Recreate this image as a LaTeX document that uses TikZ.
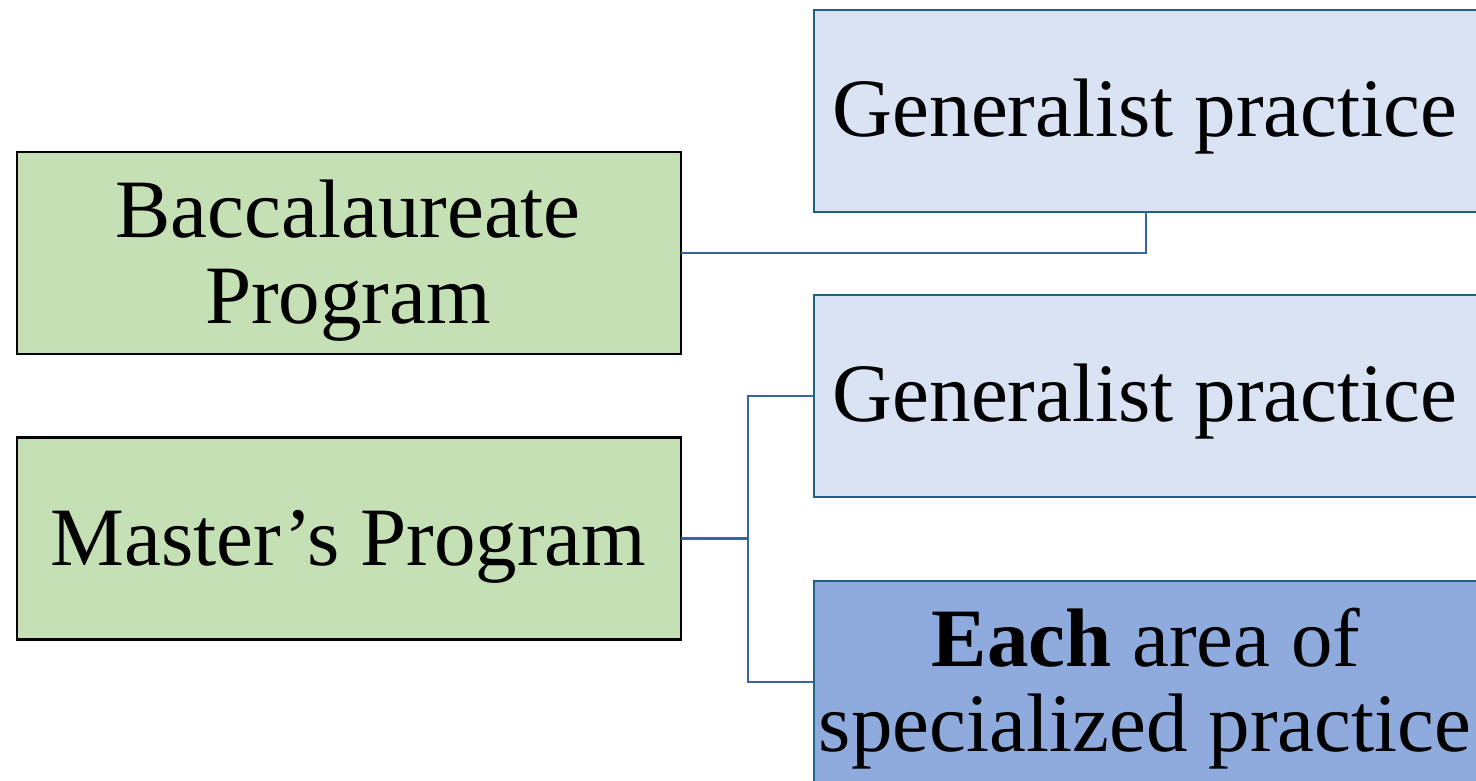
\documentclass[tikz,border=0pt]{standalone}
\usepackage{fontspec}
\setmainfont{Liberation Serif}
\definecolor{progfill}{HTML}{C5E0B4}
\definecolor{genfill}{HTML}{DAE3F3}
\definecolor{specfill}{HTML}{8FAADC}
\definecolor{boxline}{HTML}{1F6184}
\definecolor{linkline}{HTML}{3A62A6}
\tikzset{
  progbox/.style={draw=black, line width=2.4pt, fill=progfill, minimum width=664pt, minimum height=202pt, inner sep=0pt, outer sep=0pt},
  genbox/.style={draw=boxline, line width=2pt, fill=genfill, minimum width=664pt, minimum height=202pt, inner sep=0pt, outer sep=0pt},
  specbox/.style={genbox, fill=specfill},
  label/.style={font=\fontsize{83}{87}\selectfont, anchor=base, inner sep=0pt},
  link/.style={draw=linkline, line width=2.2pt}
}
\begin{document}
\begin{tikzpicture}[x=1pt, y=-1pt]
\useasboundingbox (0,0) rectangle (1476,780);

% program boxes
\node[progbox] (bacc) at (349,253) {};
\node[progbox] (mast) at (349,538.5) {};

% practice boxes
\node[genbox] (gen1) at (1146,111) {};
\node[genbox] (gen2) at (1146,396) {};
\node[specbox] (spec) at (1146,682) {};

% texts
\node[label] (baccA) at (348,237) {Baccalaureate};
\node[label] (baccB) at (348,323) {Program};
\node[label] (mastT) at (348.5,565) {Master’s Program};
\node[label] (gen1T) at (1145,136) {Generalist practice};
\node[label] (gen2T) at (1145,421) {Generalist practice};
\node[label] (specA) at (1146,666) {\bfseries Each\mdseries{} area of};
\node[label] (specB) at (1145,751) {specialized practice};

% connectors
\draw[link] (bacc.east) -| (gen1.south);
\coordinate (mj) at (748,538.5);
\draw[link] (mast.east) -- (mj);
\draw[link] (gen2.west) -| (mj) |- (spec.west);
\end{tikzpicture}
\end{document}
